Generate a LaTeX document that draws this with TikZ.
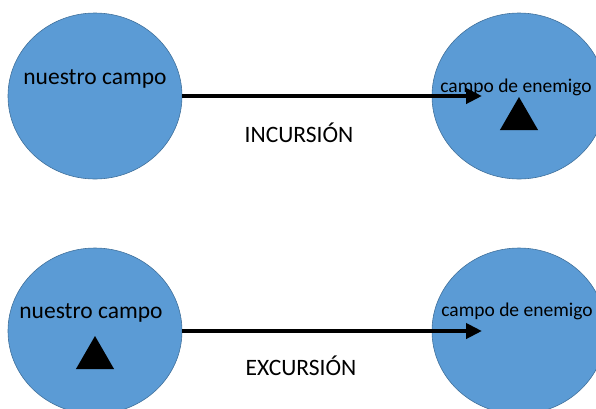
\documentclass[tikz,border=0pt]{standalone}
\usepackage{fontspec}
\setmainfont{Carlito}
\usetikzlibrary{shapes.geometric,arrows.meta}
\definecolor{campofill}{HTML}{5B9BD5}
\definecolor{campoline}{HTML}{41719C}
\tikzstyle{campo}    = [ellipse, fill=campofill, draw=campoline, line width=0.6pt, minimum width=174pt, minimum height=166pt, inner sep=0pt]
\tikzstyle{etiq}     = [inner sep=0pt, anchor=base, text centered]
\tikzstyle{grande}   = [etiq, font=\fontsize{23.5}{26}\selectfont]
\tikzstyle{chica}    = [etiq, font=\fontsize{19.5}{22}\selectfont]
\tikzstyle{tropa}    = [regular polygon, regular polygon sides=3, fill=black, inner sep=0pt, minimum size=44pt]
\tikzstyle{flecha}   = [line width=4.5pt, -{Triangle[length=16pt,width=15pt]}]

\begin{document}
\begin{tikzpicture}[x=1pt, y=-1pt]
  \useasboundingbox (0,0) rectangle (596,408);
  % incursion
  \node (nuestroA) [campo] at (95,96) {};
  \node (enemigoA) [campo] at (519,96) {};
  \node (txtnuestroA) [grande] at (95,84) {nuestro campo};
  \node (txtenemigoA) [chica] at (516,92) {campo de enemigo};
  \node (tropaA) [tropa] at (519,119) {};
  \coordinate (finA) at (482,96);
  \draw[flecha] (nuestroA.east) -- (finA);
  \node (incursion) [grande] at (299,142) {INCURSIÓN};
  % excursion
  \node (nuestroB) [campo] at (95,331) {};
  \node (enemigoB) [campo] at (519,331) {};
  \node (txtnuestroB) [grande] at (91,318) {nuestro campo};
  \node (txtenemigoB) [chica] at (517,316) {campo de enemigo};
  \node (tropaB) [tropa] at (95,358) {};
  \coordinate (finB) at (482,331);
  \draw[flecha] (nuestroB.east) -- (finB);
  \node (excursion) [grande] at (301,375) {EXCURSIÓN};
\end{tikzpicture}
\end{document}
